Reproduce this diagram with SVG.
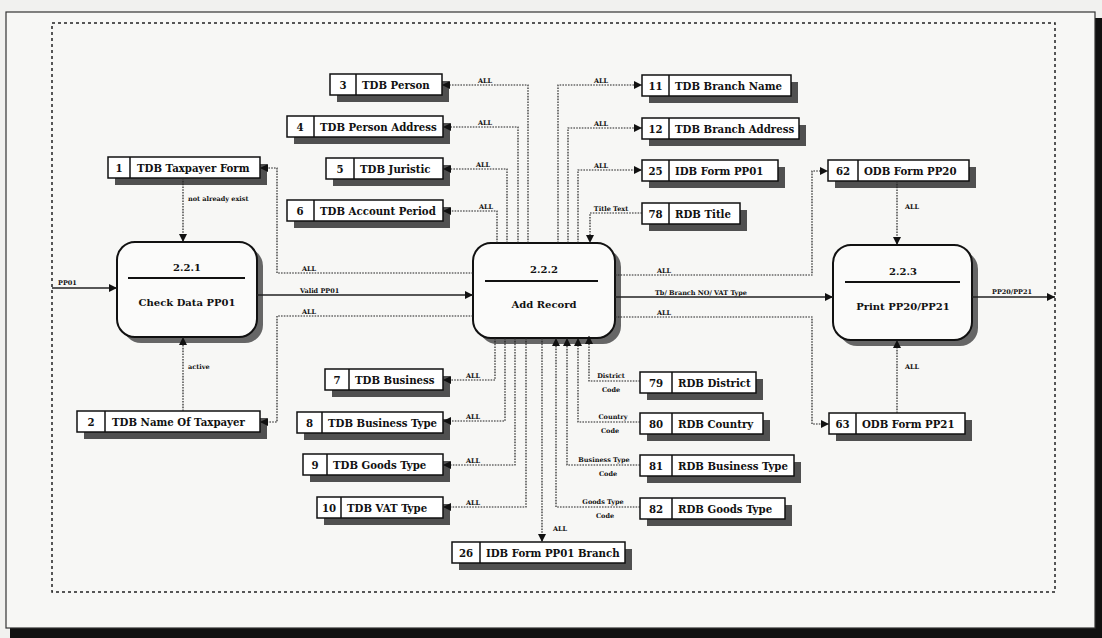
<svg xmlns="http://www.w3.org/2000/svg" width="1102" height="638" viewBox="0 0 1102 638">
<style>
text{font-family:"DejaVu Serif","Liberation Serif",serif;font-weight:bold;fill:#111}
.bx{fill:#fff;stroke:#111;stroke-width:1.5}
.sh{fill:#505050}
.psh{fill:#666}
.pr{fill:#fbfbfa;stroke:#111;stroke-width:2}
.t{font-size:10.2px}
.n{font-size:10.2px;text-anchor:middle}
.pt{font-size:10px;text-anchor:middle}
.lb{font-size:6.5px}
.lm{font-size:6.5px;text-anchor:middle}
.dot{fill:none;stroke:#222;stroke-width:1.2;stroke-dasharray:1.6 1.2}
.sol{fill:none;stroke:#222;stroke-width:1.3}
</style>
<defs>
<marker id="ah" viewBox="0 0 10 10" refX="10" refY="5" markerWidth="8" markerHeight="8" markerUnits="userSpaceOnUse" orient="auto"><path d="M0,0 L10,5 L0,10 z" fill="#111"/></marker>
</defs>
<rect x="0" y="0" width="1102" height="638" fill="#f1f1ef"/>
<rect x="10" y="18" width="1092" height="620" fill="#111"/>
<rect x="6" y="12" width="1089" height="616" fill="#f7f7f5" stroke="#333" stroke-width="1.2"/>
<rect x="52" y="23" width="1003" height="569" fill="none" stroke="#222" stroke-width="1.5" stroke-dasharray="3 3"/>

<g id="p221">
<rect class="psh" x="123" y="248" width="140" height="95" rx="18"/>
<rect class="pr" x="117" y="242" width="140" height="95" rx="18"/>
<text class="pt" x="187" y="271">2.2.1</text>
<line x1="128" y1="278" x2="245" y2="278" stroke="#111" stroke-width="2"/>
<text class="pt" x="187" y="306">Check Data PP01</text>
</g>
<g id="p222">
<rect class="psh" x="479" y="249" width="142" height="95" rx="18"/>
<rect class="pr" x="473" y="243" width="142" height="95" rx="18"/>
<text class="pt" x="544" y="273">2.2.2</text>
<line x1="485" y1="281" x2="598" y2="281" stroke="#111" stroke-width="2"/>
<text class="pt" x="544" y="308">Add Record</text>
</g>
<g id="p223">
<rect class="psh" x="839" y="251" width="139" height="95" rx="18"/>
<rect class="pr" x="833" y="245" width="139" height="95" rx="18"/>
<text class="pt" x="903" y="275">2.2.3</text>
<line x1="845" y1="282" x2="960" y2="282" stroke="#111" stroke-width="2"/>
<text class="pt" x="903" y="310">Print PP20/PP21</text>
</g>

<g id="n1"><rect class="sh" x="115" y="164" width="152" height="21"/><rect class="bx" x="108" y="157" width="152" height="21"/><line x1="130" y1="157" x2="130" y2="178" stroke="#111" stroke-width="1.5"/><text class="n" x="119" y="171.5">1</text><text class="t" x="137" y="171.5">TDB Taxpayer Form</text></g>
<g id="n2"><rect class="sh" x="84" y="418" width="183" height="21"/><rect class="bx" x="77" y="411" width="183" height="21"/><line x1="105" y1="411" x2="105" y2="432" stroke="#111" stroke-width="1.5"/><text class="n" x="91" y="425.5">2</text><text class="t" x="112" y="425.5">TDB Name Of Taxpayer</text></g>
<g id="n3"><rect class="sh" x="337" y="81" width="112" height="21"/><rect class="bx" x="330" y="74" width="112" height="21"/><line x1="356" y1="74" x2="356" y2="95" stroke="#111" stroke-width="1.5"/><text class="n" x="343" y="88.5">3</text><text class="t" x="362" y="88.5">TDB Person</text></g>
<g id="n4"><rect class="sh" x="294" y="123" width="156" height="21"/><rect class="bx" x="287" y="116" width="156" height="21"/><line x1="314" y1="116" x2="314" y2="137" stroke="#111" stroke-width="1.5"/><text class="n" x="300" y="130.5">4</text><text class="t" x="320" y="130.5">TDB Person Address</text></g>
<g id="n5"><rect class="sh" x="333" y="165" width="117" height="21"/><rect class="bx" x="326" y="158" width="117" height="21"/><line x1="354" y1="158" x2="354" y2="179" stroke="#111" stroke-width="1.5"/><text class="n" x="340" y="172.5">5</text><text class="t" x="360" y="172.5">TDB Juristic</text></g>
<g id="n6"><rect class="sh" x="294" y="207" width="156" height="21"/><rect class="bx" x="287" y="200" width="156" height="21"/><line x1="314" y1="200" x2="314" y2="221" stroke="#111" stroke-width="1.5"/><text class="n" x="300" y="214.5">6</text><text class="t" x="320" y="214.5">TDB Account Period</text></g>
<g id="n7"><rect class="sh" x="332" y="376" width="118" height="21"/><rect class="bx" x="325" y="369" width="118" height="21"/><line x1="349" y1="369" x2="349" y2="390" stroke="#111" stroke-width="1.5"/><text class="n" x="337" y="383.5">7</text><text class="t" x="355" y="383.5">TDB Business</text></g>
<g id="n8"><rect class="sh" x="304" y="419" width="146" height="21"/><rect class="bx" x="297" y="412" width="146" height="21"/><line x1="322" y1="412" x2="322" y2="433" stroke="#111" stroke-width="1.5"/><text class="n" x="309.5" y="426.5">8</text><text class="t" x="328" y="426.5">TDB Business Type</text></g>
<g id="n9"><rect class="sh" x="310" y="461" width="140" height="21"/><rect class="bx" x="303" y="454" width="140" height="21"/><line x1="327" y1="454" x2="327" y2="475" stroke="#111" stroke-width="1.5"/><text class="n" x="315" y="468.5">9</text><text class="t" x="333" y="468.5">TDB Goods Type</text></g>
<g id="n10"><rect class="sh" x="324" y="504" width="126" height="21"/><rect class="bx" x="317" y="497" width="126" height="21"/><line x1="341" y1="497" x2="341" y2="518" stroke="#111" stroke-width="1.5"/><text class="n" x="329" y="511.5">10</text><text class="t" x="347" y="511.5">TDB VAT Type</text></g>
<g id="n11"><rect class="sh" x="649" y="82" width="149" height="21"/><rect class="bx" x="642" y="75" width="149" height="21"/><line x1="669" y1="75" x2="669" y2="96" stroke="#111" stroke-width="1.5"/><text class="n" x="655.5" y="89.5">11</text><text class="t" x="675" y="89.5">TDB Branch Name</text></g>
<g id="n12"><rect class="sh" x="649" y="125" width="157" height="21"/><rect class="bx" x="642" y="118" width="157" height="21"/><line x1="669" y1="118" x2="669" y2="139" stroke="#111" stroke-width="1.5"/><text class="n" x="655.5" y="132.5">12</text><text class="t" x="675" y="132.5">TDB Branch Address</text></g>
<g id="n25"><rect class="sh" x="649" y="167" width="136" height="21"/><rect class="bx" x="642" y="160" width="136" height="21"/><line x1="669" y1="160" x2="669" y2="181" stroke="#111" stroke-width="1.5"/><text class="n" x="655.5" y="174.5">25</text><text class="t" x="675" y="174.5">IDB Form PP01</text></g>
<g id="n78"><rect class="sh" x="649" y="210" width="98" height="21"/><rect class="bx" x="642" y="203" width="98" height="21"/><line x1="669" y1="203" x2="669" y2="224" stroke="#111" stroke-width="1.5"/><text class="n" x="655.5" y="217.5">78</text><text class="t" x="675" y="217.5">RDB Title</text></g>
<g id="n62"><rect class="sh" x="835" y="167" width="141" height="21"/><rect class="bx" x="828" y="160" width="141" height="21"/><line x1="858" y1="160" x2="858" y2="181" stroke="#111" stroke-width="1.5"/><text class="n" x="843" y="174.5">62</text><text class="t" x="864" y="174.5">ODB Form PP20</text></g>
<g id="n63"><rect class="sh" x="836" y="420" width="136" height="21"/><rect class="bx" x="829" y="413" width="136" height="21"/><line x1="856" y1="413" x2="856" y2="434" stroke="#111" stroke-width="1.5"/><text class="n" x="842.5" y="427.5">63</text><text class="t" x="862" y="427.5">ODB Form PP21</text></g>
<g id="n79"><rect class="sh" x="647" y="379" width="116" height="21"/><rect class="bx" x="640" y="372" width="116" height="21"/><line x1="672" y1="372" x2="672" y2="393" stroke="#111" stroke-width="1.5"/><text class="n" x="656" y="386.5">79</text><text class="t" x="678" y="386.5">RDB District</text></g>
<g id="n80"><rect class="sh" x="647" y="420" width="123" height="21"/><rect class="bx" x="640" y="413" width="123" height="21"/><line x1="672" y1="413" x2="672" y2="434" stroke="#111" stroke-width="1.5"/><text class="n" x="656" y="427.5">80</text><text class="t" x="678" y="427.5">RDB Country</text></g>
<g id="n81"><rect class="sh" x="647" y="462" width="154" height="21"/><rect class="bx" x="640" y="455" width="154" height="21"/><line x1="672" y1="455" x2="672" y2="476" stroke="#111" stroke-width="1.5"/><text class="n" x="656" y="469.5">81</text><text class="t" x="678" y="469.5">RDB Business Type</text></g>
<g id="n82"><rect class="sh" x="647" y="505" width="145" height="21"/><rect class="bx" x="640" y="498" width="145" height="21"/><line x1="672" y1="498" x2="672" y2="519" stroke="#111" stroke-width="1.5"/><text class="n" x="656" y="512.5">82</text><text class="t" x="678" y="512.5">RDB Goods Type</text></g>
<g id="n26"><rect class="sh" x="459" y="549" width="173" height="21"/><rect class="bx" x="452" y="542" width="173" height="21"/><line x1="480" y1="542" x2="480" y2="563" stroke="#111" stroke-width="1.5"/><text class="n" x="466" y="556.5">26</text><text class="t" x="486" y="556.5">IDB Form PP01 Branch</text></g>

<g id="connectors">
<path class="sol" d="M52,288 H117" marker-end="url(#ah)"/>
<path class="sol" d="M257,295 H473" marker-end="url(#ah)"/>
<path class="sol" d="M615,297 H833" marker-end="url(#ah)"/>
<path class="sol" d="M972,297 H1055" marker-end="url(#ah)"/>
<path class="dot" d="M183,178 V242" marker-end="url(#ah)"/>
<path class="dot" d="M183,411 V337" marker-end="url(#ah)"/>
<path class="dot" d="M473,273 H277 V168 H260" marker-end="url(#ah)"/>
<path class="dot" d="M473,316 H277 V422 H260" marker-end="url(#ah)"/>
<path class="dot" d="M528,243 V85 H442" marker-end="url(#ah)"/>
<path class="dot" d="M518,243 V127 H443" marker-end="url(#ah)"/>
<path class="dot" d="M507,243 V169 H443" marker-end="url(#ah)"/>
<path class="dot" d="M497,243 V211 H443" marker-end="url(#ah)"/>
<path class="dot" d="M558,243 V85 H642" marker-end="url(#ah)"/>
<path class="dot" d="M568,243 V128 H642" marker-end="url(#ah)"/>
<path class="dot" d="M578,243 V170 H642" marker-end="url(#ah)"/>
<path class="dot" d="M642,213 H590 V243" marker-end="url(#ah)"/>
<path class="dot" d="M615,275 H812 V171 H828" marker-end="url(#ah)"/>
<path class="dot" d="M615,317 H812 V424 H829" marker-end="url(#ah)"/>
<path class="dot" d="M897,181 V245" marker-end="url(#ah)"/>
<path class="dot" d="M897,413 V340" marker-end="url(#ah)"/>
<path class="dot" d="M495,338 V380 H443" marker-end="url(#ah)"/>
<path class="dot" d="M505,338 V421 H443" marker-end="url(#ah)"/>
<path class="dot" d="M515,338 V465 H443" marker-end="url(#ah)"/>
<path class="dot" d="M526,338 V507 H443" marker-end="url(#ah)"/>
<path class="dot" d="M542,338 V542" marker-end="url(#ah)"/>
<path class="dot" d="M640,381 H589 V336" marker-end="url(#ah)"/>
<path class="dot" d="M640,422 H578 V338" marker-end="url(#ah)"/>
<path class="dot" d="M640,465 H567 V338" marker-end="url(#ah)"/>
<path class="dot" d="M640,507 H556 V338" marker-end="url(#ah)"/>
<text class="lb" x="58" y="285">PP01</text>
<text class="lb" x="300" y="293">Valid PP01</text>
<text class="lb" x="655" y="295">Tb/ Branch NO/ VAT Type</text>
<text class="lb" x="992" y="294">PP20/PP21</text>
<text class="lb" x="188" y="201">not already exist</text>
<text class="lb" x="188" y="369">active</text>
<text class="lm" x="309" y="271">ALL</text>
<text class="lm" x="309" y="314">ALL</text>
<text class="lm" x="485" y="83">ALL</text>
<text class="lm" x="485" y="125">ALL</text>
<text class="lm" x="483" y="167">ALL</text>
<text class="lm" x="486" y="209">ALL</text>
<text class="lm" x="601" y="83">ALL</text>
<text class="lm" x="601" y="126">ALL</text>
<text class="lm" x="601" y="168">ALL</text>
<text class="lm" x="611" y="211">Title Text</text>
<text class="lm" x="664" y="273">ALL</text>
<text class="lm" x="664" y="315">ALL</text>
<text class="lb" x="905" y="209">ALL</text>
<text class="lb" x="905" y="369">ALL</text>
<text class="lm" x="473" y="378">ALL</text>
<text class="lm" x="473" y="419">ALL</text>
<text class="lm" x="473" y="463">ALL</text>
<text class="lm" x="473" y="505">ALL</text>
<text class="lm" x="560" y="531">ALL</text>
<text class="lm" x="611" y="378">District</text>
<text class="lm" x="611" y="392">Code</text>
<text class="lm" x="613" y="419">Country</text>
<text class="lm" x="610" y="433">Code</text>
<text class="lm" x="604" y="462">Business Type</text>
<text class="lm" x="608" y="476">Code</text>
<text class="lm" x="603" y="504">Goods Type</text>
<text class="lm" x="605" y="518">Code</text>
</g>
</svg>
